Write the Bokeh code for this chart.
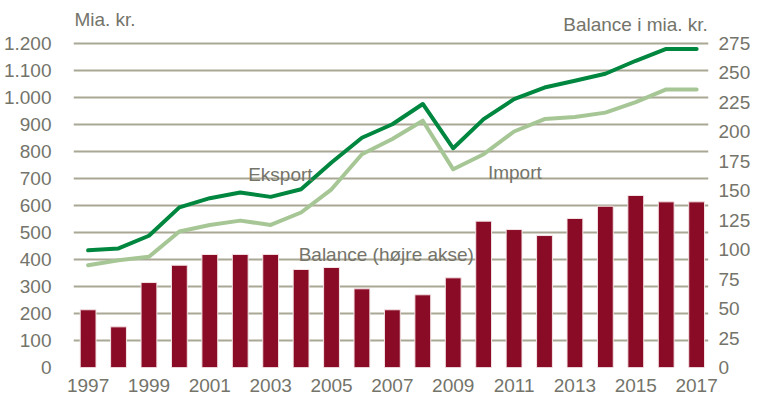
from bokeh.plotting import figure
from bokeh.models import Range1d, LinearAxis, FixedTicker, Label, ColumnDataSource
from bokeh.embed import file_html
from bokeh.resources import INLINE

years = list(range(1997, 2018))
eksport = [434, 441, 488, 593, 627, 648, 632, 660, 759, 851, 901, 976, 812, 920, 994,
           1037, 1062, 1088, 1136, 1180, 1180]
importv = [379, 397, 410, 504, 528, 544, 528, 574, 660, 790, 846, 914, 734, 790, 874,
           920, 928, 944, 983, 1030, 1030]
balance = [49.0, 34.5, 72.1, 86.8, 95.9, 96.0, 96.0, 83.2, 84.9, 66.8, 49.0, 61.7, 76.1,
           124.2, 117.1, 112.0, 126.5, 136.9, 146.0, 140.6, 140.6]
left_ticks = list(range(0, 1300, 100))
left_labels = {t: ("{:,}".format(t)).replace(",", ".") for t in left_ticks}
right_ticks = list(range(0, 300, 25))
x_ticks = list(range(1997, 2018, 2))

FONT = "Liberation Sans"
TXT = "#74746A"
GRID = "#AAA795"

# frame spans the full height above the x axis; headroom above 1200 holds the unit texts
TOP = 1200 * 367 / 324
p = figure(width=753, height=398, output_backend="svg", toolbar_location=None,
           x_range=Range1d(1996.52, 2017.39), y_range=Range1d(0, TOP),
           min_border_left=66, min_border_right=36, min_border_top=0, min_border_bottom=31)
p.outline_line_color = None
p.background_fill_color = "white"
p.border_fill_color = "white"
p.extra_y_ranges = {"bal": Range1d(0, TOP * 275 / 1200)}

p.xgrid.grid_line_color = None
p.ygrid.grid_line_color = GRID
p.ygrid.grid_line_width = 2
p.ygrid.ticker = FixedTicker(ticks=left_ticks)

src = ColumnDataSource(dict(x=years, bal=balance, eks=eksport, imp=importv))
p.vbar(x="x", top="bal", width=0.52, bottom=0, source=src, y_range_name="bal",
       fill_color="#8A0B25", line_color="#F4E4E6", line_width=1)
p.line(x="x", y="imp", source=src, line_color="#A6C795", line_width=4,
       line_join="round", line_cap="round")
p.line(x="x", y="eks", source=src, line_color="#00873F", line_width=4,
       line_join="round", line_cap="round")

yax = p.yaxis[0]
yax.ticker = FixedTicker(ticks=left_ticks)
yax.major_label_overrides = left_labels
yax.major_label_standoff = 16

right = LinearAxis(y_range_name="bal", ticker=FixedTicker(ticks=right_ticks),
                   major_label_standoff=4)
p.add_layout(right, "right")

xax = p.xaxis[0]
xax.ticker = FixedTicker(ticks=x_ticks)
xax.major_label_standoff = 5

for ax in [yax, right, xax]:
    ax.axis_line_color = None
    ax.major_tick_line_color = None
    ax.minor_tick_line_color = None
    ax.major_label_text_font = FONT
    ax.major_label_text_font_size = "19px"
    ax.major_label_text_color = TXT

def lab(**kw):
    base = dict(text_font=FONT, text_font_size="19px", text_color=TXT,
                text_align="left", text_baseline="alphabetic")
    base.update(kw)
    p.add_layout(Label(**base))

lab(x=2002.26, y=715, text="Eksport")
lab(x=2010.14, y=722, text="Import")
lab(x=2003.92, y=418, text="Balance (højre akse)")
lab(x=1996.55, y=1289, text="Mia. kr.")
lab(x=2017.37, y=1271, text="Balance i mia. kr.", text_align="right")

open("out.html", "w").write(file_html(p, INLINE))
